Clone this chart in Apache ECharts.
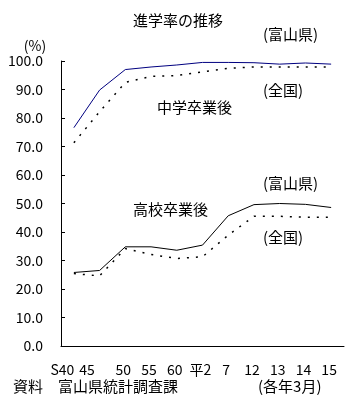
<!DOCTYPE html>
<html><head><meta charset="utf-8">
<script src="https://cdn.jsdelivr.net/npm/echarts@6/dist/echarts.min.js"></script>
<style>html,body{margin:0;padding:0;background:#fff}#c{width:350px;height:403px}</style>
</head><body><div id="c"></div>
<script>
var categories = ['S40','45','50','55','60','平2','7','12','13','14','15'];
var juniorToyama = [76.6, 89.8, 97.0, 97.9, 98.6, 99.5, 99.5, 99.4, 98.9, 99.3, 98.9];
var juniorNation = [71.3, 82.2, 92.5, 94.6, 94.9, 96.2, 97.4, 97.9, 97.9, 97.9, 97.9];
var highToyama  = [25.8, 26.5, 34.8, 34.8, 33.6, 35.4, 45.7, 49.6, 50.0, 49.7, 48.6];
var highNation  = [25.4, 24.6, 34.2, 32.1, 30.7, 31.3, 38.9, 45.5, 45.5, 45.2, 45.2];
var yTicks = [0,10,20,30,40,50,60,70,80,90,100];

var font = '"Noto Sans CJK JP", sans-serif';
var chart = echarts.init(document.getElementById('c'));
function txt(x, y, s, size, align) {
  return {type:'text', x:x, y:y, style:{text:s, font:(size||15)+'px ' + font, fill:'#000', textAlign:align||'left', textVerticalAlign:'middle'}};
}
chart.setOption({
  animation:false,
  backgroundColor:'#fff',
  grid:{left:61, right:6, top:61, bottom:57},
  xAxis:{
    type:'category', data:categories, boundaryGap:true,
    axisLine:{lineStyle:{color:'#000', width:1}},
    axisTick:{inside:true, length:4, lineStyle:{color:'#000'}},
    axisLabel:{
      margin:17, color:'#000', fontFamily:font, fontSize:14, interval:0,
      formatter:function(v, i){ return i===0 ? '{a|'+v+'}' : (i===1 ? '{b|'+v+'}' : '{c|'+v+'}'); },
      rich:{
        a:{padding:[0,23,0,0], fontFamily:font, fontSize:14, color:'#000'},
        b:{padding:[0,25,0,0], fontFamily:font, fontSize:14, color:'#000'},
        c:{padding:[0,4,0,0], fontFamily:font, fontSize:14, color:'#000'}
      }
    },
    splitLine:{show:false}
  },
  yAxis:{
    type:'value', min:yTicks[0], max:yTicks[yTicks.length-1], interval:10,
    axisLine:{show:true, lineStyle:{color:'#000', width:1}},
    axisTick:{show:true, inside:true, length:4, lineStyle:{color:'#000'}},
    axisLabel:{margin:18, color:'#000', fontFamily:font, fontSize:14, formatter:function(v){return v.toFixed(1);}},
    splitLine:{show:false}
  },
  series:[
    {type:'line', data:juniorToyama, symbol:'none', lineStyle:{color:'#000080', width:1}},
    {type:'line', data:juniorNation, symbol:'none', lineStyle:{color:'#000', width:1.5, type:[2,7]}},
    {type:'line', data:highToyama, symbol:'none', lineStyle:{color:'#000', width:1}},
    {type:'line', data:highNation, symbol:'none', lineStyle:{color:'#000', width:1.5, type:[2,7]}}
  ],
  graphic:[
    txt(178, 20, '進学率の推移', 15, 'center'),
    txt(35, 46, '(%)', 14, 'center'),
    txt(263, 34, '(富山県)', 15),
    txt(263, 90, '(全国)', 15),
    txt(157, 107, '中学卒業後', 15),
    txt(263, 183, '(富山県)', 15),
    txt(133, 209, '高校卒業後', 15),
    txt(263, 237, '(全国)', 15),
    txt(13, 386, '資料　富山県統計調査課', 15),
    txt(258, 386, '(各年3月)', 15)
  ]
});
</script></body></html>
